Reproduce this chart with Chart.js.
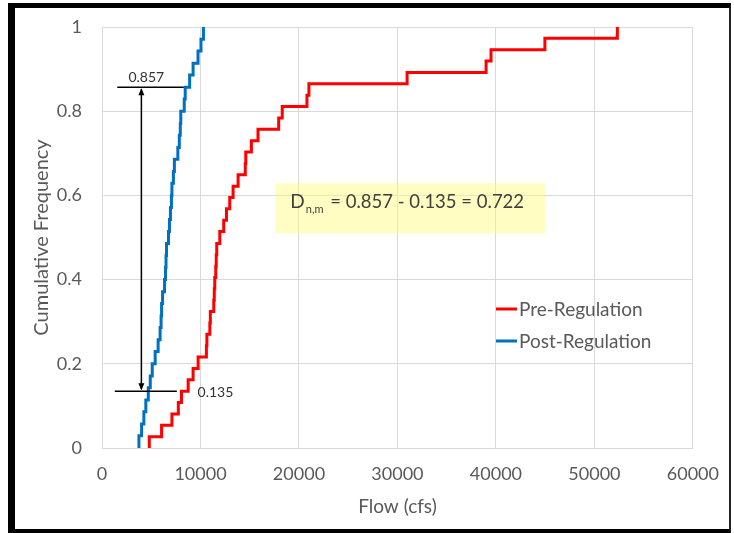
<!DOCTYPE html>
<html>
<head>
<meta charset="utf-8">
<script src="https://cdn.jsdelivr.net/npm/chart.js@4/dist/chart.umd.min.js"></script>
<style>
html, body { margin: 0; padding: 0; background: #fff; }
#wrap { position: relative; width: 734px; height: 533px; overflow: hidden; }
#frame {
    position: absolute; left: 8px; top: 3px; width: 723px; height: 530px;
    box-sizing: border-box; pointer-events: none;
    border-left: 7px solid #000; border-top: 5px solid #000;
    border-right: 2px solid #222; border-bottom: 4px solid #000;
}
</style>
</head>
<body>
<div id="wrap">
    <canvas id="myChart" width="734" height="533"></canvas>
    <div id="frame"></div>
</div>
<script>
// sorted flows (cfs) and cumulative frequency
const preFlow = [4800, 6050, 7100, 7750, 8070, 8750, 9250, 9760, 10600, 10650,
    10950, 11000, 11350, 11400, 11450, 11550, 11600, 11650, 11960, 12360,
    12640, 12970, 13310, 13820, 14550, 14600, 15170, 15840, 17940, 18300,
    20810, 21010, 30980, 39000, 39500, 44970, 52330];
const preFreq = [0.027, 0.054, 0.081, 0.108, 0.135, 0.162, 0.189, 0.216, 0.243, 0.270,
    0.297, 0.324, 0.351, 0.378, 0.405, 0.432, 0.459, 0.486, 0.514, 0.541,
    0.568, 0.595, 0.622, 0.649, 0.676, 0.703, 0.730, 0.757, 0.784, 0.811,
    0.838, 0.865, 0.892, 0.919, 0.946, 0.973, 1];

const postFlow = [3750, 4020, 4250, 4450, 4700, 4900, 5100, 5400, 5700, 5900,
    6000, 6050, 6150, 6350, 6450, 6500, 6550, 6750, 6850, 6950,
    7050, 7100, 7250, 7350, 7700, 7850, 7950, 8000, 8350, 8450,
    8900, 9250, 9750, 10050, 10300];
const postFreq = [0.029, 0.057, 0.086, 0.114, 0.143, 0.171, 0.2, 0.229, 0.257, 0.286,
    0.314, 0.343, 0.371, 0.4, 0.429, 0.457, 0.486, 0.514, 0.543, 0.571,
    0.6, 0.629, 0.657, 0.686, 0.714, 0.743, 0.771, 0.8, 0.829, 0.857,
    0.886, 0.914, 0.943, 0.971, 1];

const seriesNames = ['Pre-Regulation', 'Post-Regulation'];
const xTickLabels = ['0', '10000', '20000', '30000', '40000', '50000', '60000'];
const yTickLabels = ['0', '0.2', '0.4', '0.6', '0.8', '1'];

// K-S statistic values shown on the chart
const dUpper = 0.857;
const dLower = 0.135;
const dValue = 0.722;

const FONT = 'Lato, "Open Sans", sans-serif';

// ECDF points, starting from zero at the first flow
function ecdf(flows, freqs) {
    var pts = [{x: flows[0], y: 0}];
    for (var i = 0; i < flows.length; i++) {
        pts.push({x: flows[i], y: freqs[i]});
    }
    return pts;
}

// arrow, marker lines, text box and legend
const notes = {
    id: 'notes',
    afterDatasetsDraw(chart) {
        const ctx = chart.ctx;
        const x = chart.scales.x, y = chart.scales.y;
        const area = chart.chartArea;
        ctx.save();

        // yellow text box
        const bx1 = x.getPixelForValue(17600), bx2 = x.getPixelForValue(45000);
        const by1 = y.getPixelForValue(0.629), by2 = y.getPixelForValue(0.51);
        ctx.fillStyle = 'rgba(255, 250, 120, 0.45)';
        ctx.fillRect(bx1, by1, bx2 - bx1, by2 - by1);

        ctx.fillStyle = '#404040';
        ctx.textBaseline = 'alphabetic';
        ctx.textAlign = 'left';
        var tx = bx1 + 15;
        var base = by1 + 25;
        ctx.font = '19px ' + FONT;
        ctx.fillText('D', tx, base);
        tx += ctx.measureText('D').width + 1;
        ctx.font = '11px ' + FONT;
        ctx.fillText('n,m', tx, base + 5);
        tx += ctx.measureText('n,m').width;
        ctx.font = '18.5px ' + FONT;
        ctx.fillText(' = ' + dUpper + ' - ' + dLower + ' = ' + dValue, tx + 2, base);

        // horizontal marker lines
        ctx.strokeStyle = '#000';
        ctx.lineWidth = 1.5;
        const yU = y.getPixelForValue(dUpper), yL = y.getPixelForValue(dLower);
        ctx.beginPath();
        ctx.moveTo(x.getPixelForValue(1550), yU);
        ctx.lineTo(x.getPixelForValue(8300), yU);
        ctx.moveTo(x.getPixelForValue(1300), yL);
        ctx.lineTo(x.getPixelForValue(7600), yL);
        ctx.stroke();

        // double arrow
        const ax = x.getPixelForValue(4000);
        ctx.beginPath();
        ctx.moveTo(ax, yU + 2);
        ctx.lineTo(ax, yL - 2);
        ctx.stroke();
        ctx.fillStyle = '#000';
        ctx.beginPath();
        ctx.moveTo(ax, yU + 1);
        ctx.lineTo(ax - 3, yU + 8);
        ctx.lineTo(ax + 3, yU + 8);
        ctx.closePath();
        ctx.moveTo(ax, yL - 1);
        ctx.lineTo(ax - 3, yL - 8);
        ctx.lineTo(ax + 3, yL - 8);
        ctx.closePath();
        ctx.fill();

        // value labels
        ctx.fillStyle = '#333';
        ctx.font = '14px ' + FONT;
        ctx.textAlign = 'center';
        ctx.textBaseline = 'alphabetic';
        ctx.fillText(String(dUpper), x.getPixelForValue(4500), yU - 5);
        ctx.textAlign = 'left';
        ctx.textBaseline = 'middle';
        ctx.fillText(String(dLower), x.getPixelForValue(9700), yL + 1);

        // legend inside plot
        const lx = area.left + 394, ly = area.top + 282;
        chart.data.datasets.forEach(function (ds, i) {
            const yy = ly + i * 32;
            ctx.strokeStyle = ds.borderColor;
            ctx.lineWidth = 3;
            ctx.beginPath();
            ctx.moveTo(lx, yy);
            ctx.lineTo(lx + 21, yy);
            ctx.stroke();
            ctx.fillStyle = '#595959';
            ctx.font = '19px ' + FONT;
            ctx.textAlign = 'left';
            ctx.textBaseline = 'middle';
            ctx.fillText(ds.label, lx + 23, yy + 1);
        });
        ctx.restore();
    }
};

const ctx = document.getElementById('myChart');
const data = {
    datasets: [{
        label: seriesNames[0],
        data: ecdf(preFlow, preFreq),
        borderColor: '#FF0000',
        borderWidth: 3,
        stepped: 'before',
        pointRadius: 0,
        fill: false
    }, {
        label: seriesNames[1],
        data: ecdf(postFlow, postFreq),
        borderColor: '#0070C0',
        borderWidth: 3,
        stepped: 'before',
        pointRadius: 0,
        fill: false
    }]
};
const config = {
    type: 'line',
    data: data,
    options: {
        responsive: false,
        animation: false,
        devicePixelRatio: 1,
        layout: { padding: { left: 15, top: 27, right: 40, bottom: 10 } },
        plugins: {
            legend: { display: false },
            tooltip: { enabled: false }
        },
        scales: {
            x: {
                type: 'linear',
                min: 0, max: 60000,
                afterFit: function (s) { s.height = 75; },
                ticks: {
                    stepSize: 10000,
                    padding: 15,
                    color: '#595959',
                    font: { family: FONT, size: 18 },
                    maxRotation: 0,
                    callback: function (v, i) { return xTickLabels[i]; }
                },
                grid: { color: '#D9D9D9', drawTicks: false },
                border: { color: '#D9D9D9' },
                title: {
                    display: true, text: 'Flow (cfs)', color: '#595959',
                    font: { family: FONT, size: 19 },
                    padding: { top: 0, bottom: 5 }
                }
            },
            y: {
                min: 0, max: 1,
                afterFit: function (s) {
                    s.width = 87;
                    s.paddingTop = 0;
                    s.paddingBottom = 0;
                },
                ticks: {
                    stepSize: 0.2,
                    padding: 20,
                    color: '#595959',
                    font: { family: FONT, size: 18 },
                    callback: function (v, i) { return yTickLabels[i]; }
                },
                grid: { color: '#D9D9D9', drawTicks: false },
                border: { color: '#D9D9D9' },
                title: {
                    display: true, text: 'Cumulative Frequency', color: '#595959',
                    font: { family: FONT, size: 20 },
                    padding: { top: 15, bottom: 0 }
                }
            }
        }
    },
    plugins: [notes]
};
const myChart = new Chart(ctx, config);
</script>
</body>
</html>
